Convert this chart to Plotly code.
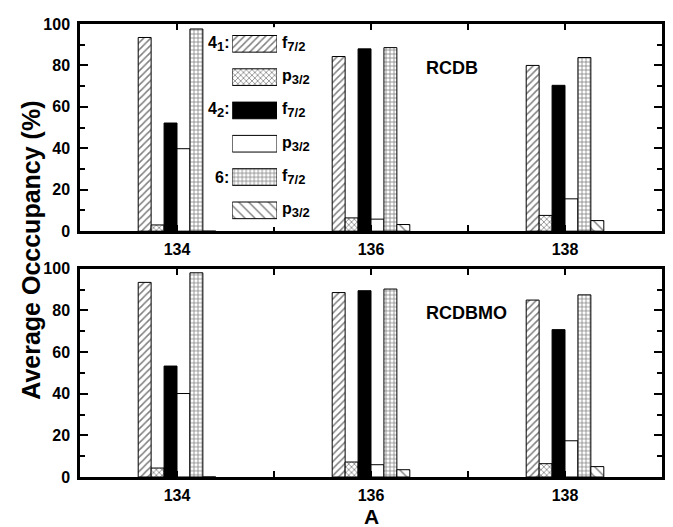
import plotly.graph_objects as go

# ---------------- data ----------------
mass_numbers = [134, 136, 138]
x_tick_vals = [134, 136, 138]
x_tick_text = ["134", "136", "138"]

# RCDB (top panel)
rcdb_41_f72 = [93.5, 84.3, 80.0]
rcdb_41_p32 = [3.0, 6.4, 7.6]
rcdb_42_f72 = [52.2, 88.0, 70.4]
rcdb_42_p32 = [39.8, 5.8, 15.6]
rcdb_6_f72 = [97.6, 88.6, 83.8]
rcdb_6_p32 = [0.0, 3.2, 5.1]

# RCDBMO (bottom panel)
rcdbmo_41_f72 = [93.5, 88.6, 85.0]
rcdbmo_41_p32 = [4.3, 7.2, 6.4]
rcdbmo_42_f72 = [53.3, 89.5, 70.8]
rcdbmo_42_p32 = [40.1, 5.9, 17.4]
rcdbmo_6_f72 = [98.1, 90.3, 87.5]
rcdbmo_6_p32 = [0.0, 3.5, 5.0]

series_names = ["4_1 f7/2", "4_1 p3/2", "4_2 f7/2", "4_2 p3/2", "6 f7/2", "6 p3/2"]
panel_labels = ["RCDB", "RCDBMO"]
legend_left_labels = ["4<sub>1</sub>:", "", "4<sub>2</sub>:", "", "6:", ""]
legend_right_labels = ["f", "p", "f", "p", "f", "p"]
legend_right_subs = ["7/2", "3/2", "7/2", "3/2", "7/2", "3/2"]
legend_rows = [0, 1, 2, 3, 4, 5]
legend_len = [1, 1, 1, 1, 1, 1]

# ---------------- styles ----------------
styles = [
    dict(color="white", pattern=dict(shape="/", size=5, solidity=0.3, fgcolor="black", bgcolor="white")),
    dict(color="white", pattern=dict(shape="x", size=4, solidity=0.35, fgcolor="black", bgcolor="white")),
    dict(color="black"),
    dict(color="white"),
    dict(color="white", pattern=dict(shape="+", size=4, solidity=0.35, fgcolor="black", bgcolor="white")),
    dict(color="white", pattern=dict(shape="\\", size=7, solidity=0.2, fgcolor="black", bgcolor="white")),
]

FONT = "Liberation Sans, Arial, sans-serif"
SUB_OPEN = "<sub><span style='font-size:13px'>"
SUB_CLOSE = "</span></sub>"

fig = go.Figure()

panels = [
    ("x", "y", [rcdb_41_f72, rcdb_41_p32, rcdb_42_f72, rcdb_42_p32, rcdb_6_f72, rcdb_6_p32]),
    ("x2", "y2", [rcdbmo_41_f72, rcdbmo_41_p32, rcdbmo_42_f72, rcdbmo_42_p32, rcdbmo_6_f72, rcdbmo_6_p32]),
]
for xa, ya, series in panels:
    for name, vals, st in zip(series_names, series, styles):
        marker = dict(line=dict(color="black", width=1), **st)
        fig.add_trace(go.Bar(x=mass_numbers, y=vals, name=name, marker=marker,
                             xaxis=xa, yaxis=ya, showlegend=False))

# hand-made legend drawn on a hidden axis pair
for i, st in enumerate(styles):
    marker = dict(line=dict(color="black", width=1), **st)
    fig.add_trace(go.Bar(x=[legend_len[i]], y=[legend_rows[i]], orientation="h",
                         width=0.5, offset=-0.25, marker=marker,
                         xaxis="x3", yaxis="y3", showlegend=False, hoverinfo="skip"))

axis_common = dict(showline=True, linewidth=2.5, linecolor="black", mirror="ticks",
                   ticks="inside", tickwidth=2, tickcolor="black", showgrid=False,
                   zeroline=False,
                   tickfont=dict(family=FONT, size=16, color="black", weight="bold"))

xaxis_cfg = dict(range=[133, 139], tickvals=x_tick_vals, ticktext=x_tick_text, ticklen=6,
                 minor=dict(dtick=1, tick0=133, ticklen=6, tickwidth=2, ticks="inside", tickcolor="black"),
                 ticklabelstandoff=2, **axis_common)
yaxis_cfg = dict(range=[0, 100], tick0=0, dtick=20, ticklen=8,
                 minor=dict(dtick=10, tick0=0, ticklen=5, tickwidth=2, ticks="inside", tickcolor="black"),
                 ticklabelstandoff=4, **axis_common)

annotations = []
for ref_x, ref_y, lab in [("x", "y", panel_labels[0]), ("x2", "y2", panel_labels[1])]:
    annotations.append(dict(x=136.55, y=79, xref=ref_x, yref=ref_y, text=lab, showarrow=False,
                            xanchor="left", yanchor="middle",
                            font=dict(family=FONT, size=18, color="black", weight="bold")))

for r in legend_rows:
    if legend_left_labels[r]:
        annotations.append(dict(x=0, y=r, xref="x3 domain", yref="y3",
                                text=legend_left_labels[r].replace("<sub>", SUB_OPEN).replace("</sub>", SUB_CLOSE),
                                showarrow=False, xanchor="right", yanchor="middle", xshift=-1,
                                font=dict(family=FONT, size=16, color="black", weight="bold")))
    annotations.append(dict(x=1, y=r, xref="x3 domain", yref="y3",
                            text=legend_right_labels[r] + SUB_OPEN + legend_right_subs[r] + SUB_CLOSE,
                            showarrow=False, xanchor="left", yanchor="middle", xshift=3,
                            font=dict(family=FONT, size=16, color="black", weight="bold")))

annotations.append(dict(x=-0.0855, y=0.5, xref="paper", yref="paper", text="Average Occcupancy (%)",
                        textangle=-90, showarrow=False, xanchor="center", yanchor="middle",
                        font=dict(family=FONT, size=25, color="black", weight="bold")))
annotations.append(dict(x=0.5, y=-0.087, xref="paper", yref="paper", text="A",
                        showarrow=False, xanchor="center", yanchor="middle",
                        font=dict(family=FONT, size=21, color="black", weight="bold")))

# the page body adds an 8px offset, so the figure is sized to fit the window
fig.update_layout(
    width=665, height=519,
    margin=dict(l=72, r=8, t=12, b=50),
    paper_bgcolor="white", plot_bgcolor="white",
    barmode="group", bargap=0.6, bargroupgap=0,
    showlegend=False,
    font=dict(family=FONT, color="black"),
    xaxis=dict(domain=[0, 1], anchor="y", **xaxis_cfg),
    yaxis=dict(domain=[0.5427, 1.0], anchor="x", **yaxis_cfg),
    xaxis2=dict(domain=[0, 1], anchor="y2", **xaxis_cfg),
    yaxis2=dict(domain=[0, 0.4595], anchor="x2", **yaxis_cfg),
    xaxis3=dict(domain=[0.2615, 0.3385], anchor="y3", range=[0, 1], visible=False, fixedrange=True),
    yaxis3=dict(domain=[0.5519, 0.993], anchor="x3", range=[5.5, -0.5], visible=False, fixedrange=True),
    annotations=annotations,
)

fig.write_html("out.html")
